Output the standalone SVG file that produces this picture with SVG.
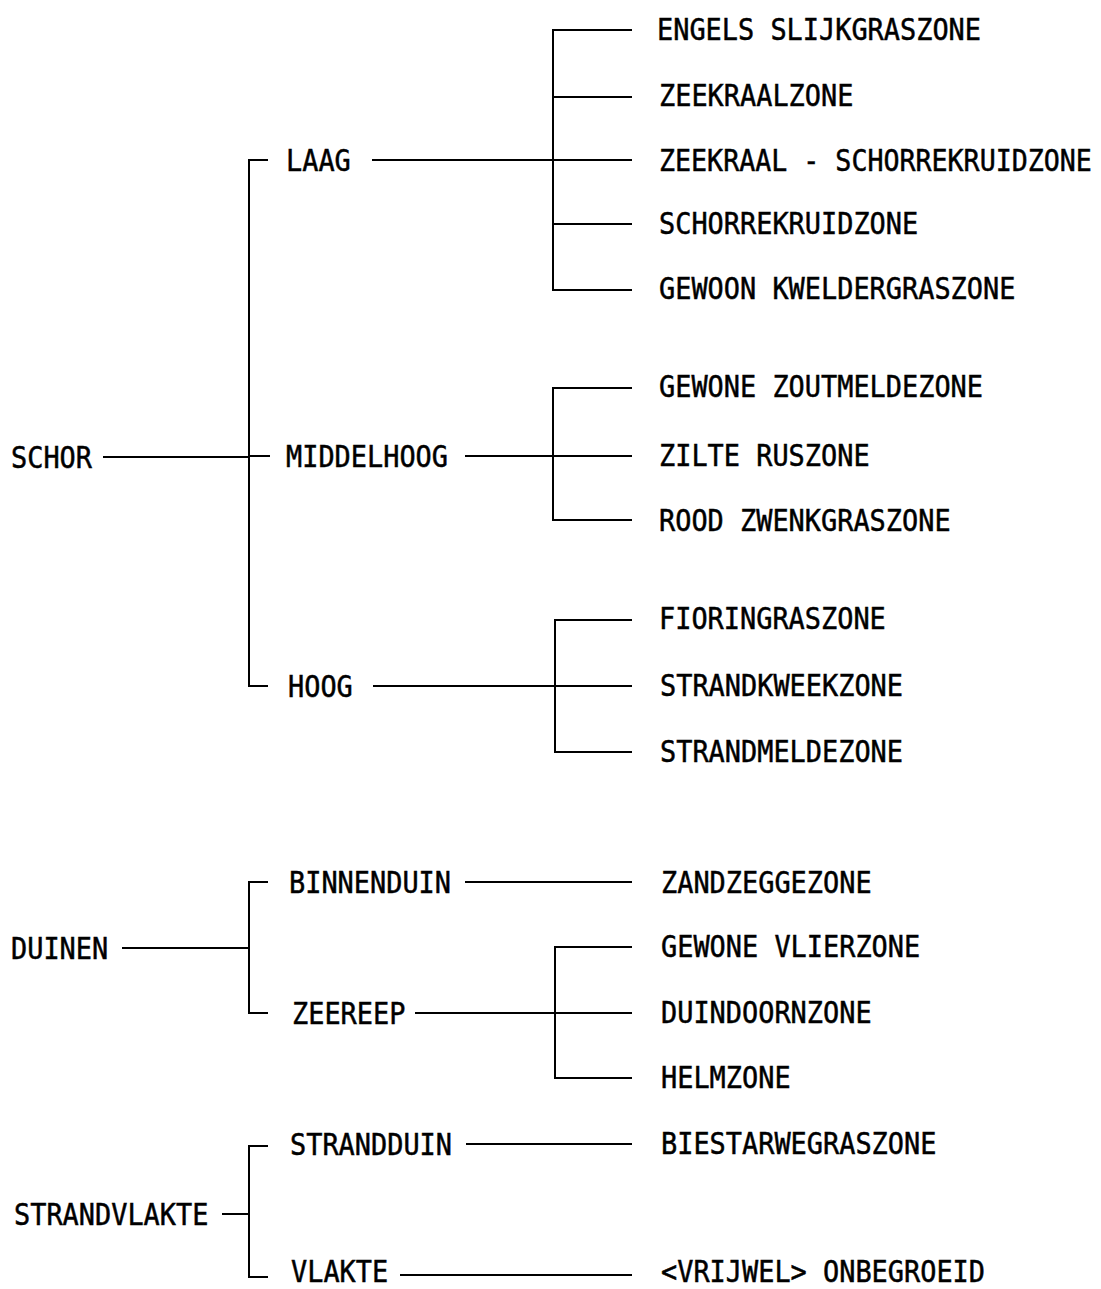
<svg xmlns="http://www.w3.org/2000/svg" width="1101" height="1289" viewBox="0 0 1101 1289">
<style>
text{font-family:"DejaVu Sans Mono","Liberation Mono",monospace;font-size:30px;fill:#000;stroke:#000;stroke-width:0.5;}
.c path{fill:none;stroke:#000;stroke-width:2;}
</style>
<rect width="1101" height="1289" fill="#fff"/>
<g class="c" id="connectors">
<path d="M103 457 H249"/>
<path d="M268 160 H249 V686 H268"/>
<path d="M249 456 H270"/>
<path d="M372 160 H632"/>
<path d="M632 30 H553 V290 H632"/>
<path d="M553 97 H632"/>
<path d="M553 224 H632"/>
<path d="M465 456 H632"/>
<path d="M632 388 H553 V520 H632"/>
<path d="M373 686 H632"/>
<path d="M632 620 H555 V752 H632"/>
<path d="M122 948 H249"/>
<path d="M268 882 H249 V1013 H268"/>
<path d="M465 882 H632"/>
<path d="M415 1013 H632"/>
<path d="M632 947 H555 V1078 H632"/>
<path d="M222 1214 H249"/>
<path d="M268 1146 H249 V1277 H268"/>
<path d="M466 1144 H632"/>
<path d="M400 1275 H632"/>
</g>
<g id="schor"><text x="11" y="468" textLength="81" lengthAdjust="spacingAndGlyphs">SCHOR</text></g>
<g id="laag"><text x="286" y="171" textLength="64.8" lengthAdjust="spacingAndGlyphs">LAAG</text></g>
<g id="middelhoog"><text x="286" y="467" textLength="162" lengthAdjust="spacingAndGlyphs">MIDDELHOOG</text></g>
<g id="hoog"><text x="288" y="697" textLength="64.8" lengthAdjust="spacingAndGlyphs">HOOG</text></g>
<g id="engels"><text x="657" y="40" textLength="324" lengthAdjust="spacingAndGlyphs">ENGELS SLIJKGRASZONE</text></g>
<g id="zeekraal"><text x="659" y="106" textLength="194.4" lengthAdjust="spacingAndGlyphs">ZEEKRAALZONE</text></g>
<g id="zeekraal-schorrekruid"><text transform="translate(659,171) scale(0.888,1)">ZEEKRAAL - SCHORREKRUIDZONE</text></g>
<g id="schorrekruid"><text x="659" y="234" textLength="259.2" lengthAdjust="spacingAndGlyphs">SCHORREKRUIDZONE</text></g>
<g id="kweldergras"><text x="659" y="299" textLength="356.4" lengthAdjust="spacingAndGlyphs">GEWOON KWELDERGRASZONE</text></g>
<g id="zoutmelde"><text x="659" y="397" textLength="324" lengthAdjust="spacingAndGlyphs">GEWONE ZOUTMELDEZONE</text></g>
<g id="zilterus"><text x="659" y="466" textLength="210.6" lengthAdjust="spacingAndGlyphs">ZILTE RUSZONE</text></g>
<g id="roodzwenkgras"><text x="659" y="531" textLength="291.6" lengthAdjust="spacingAndGlyphs">ROOD ZWENKGRASZONE</text></g>
<g id="fioringras"><text x="659" y="629" textLength="226.8" lengthAdjust="spacingAndGlyphs">FIORINGRASZONE</text></g>
<g id="strandkweek"><text x="660" y="696" textLength="243" lengthAdjust="spacingAndGlyphs">STRANDKWEEKZONE</text></g>
<g id="strandmelde"><text x="660" y="762" textLength="243" lengthAdjust="spacingAndGlyphs">STRANDMELDEZONE</text></g>
<g id="duinen"><text x="11" y="959" textLength="97.2" lengthAdjust="spacingAndGlyphs">DUINEN</text></g>
<g id="binnenduin"><text x="289" y="893" textLength="162" lengthAdjust="spacingAndGlyphs">BINNENDUIN</text></g>
<g id="zeereep"><text x="292" y="1024" textLength="113.4" lengthAdjust="spacingAndGlyphs">ZEEREEP</text></g>
<g id="zandzegge"><text x="661" y="893" textLength="210.6" lengthAdjust="spacingAndGlyphs">ZANDZEGGEZONE</text></g>
<g id="vlier"><text x="661" y="957" textLength="259.2" lengthAdjust="spacingAndGlyphs">GEWONE VLIERZONE</text></g>
<g id="duindoorn"><text x="661" y="1023" textLength="210.6" lengthAdjust="spacingAndGlyphs">DUINDOORNZONE</text></g>
<g id="helm"><text x="661" y="1088" textLength="129.6" lengthAdjust="spacingAndGlyphs">HELMZONE</text></g>
<g id="strandvlakte"><text x="14" y="1225" textLength="194.4" lengthAdjust="spacingAndGlyphs">STRANDVLAKTE</text></g>
<g id="strandduin"><text x="290" y="1155" textLength="162" lengthAdjust="spacingAndGlyphs">STRANDDUIN</text></g>
<g id="vlakte"><text x="291" y="1282" textLength="97.2" lengthAdjust="spacingAndGlyphs">VLAKTE</text></g>
<g id="biestarwegras"><text x="661" y="1154" textLength="275.4" lengthAdjust="spacingAndGlyphs">BIESTARWEGRASZONE</text></g>
<g id="onbegroeid"><text x="661" y="1282" textLength="324" lengthAdjust="spacingAndGlyphs">&lt;VRIJWEL&gt; ONBEGROEID</text></g>
</svg>
